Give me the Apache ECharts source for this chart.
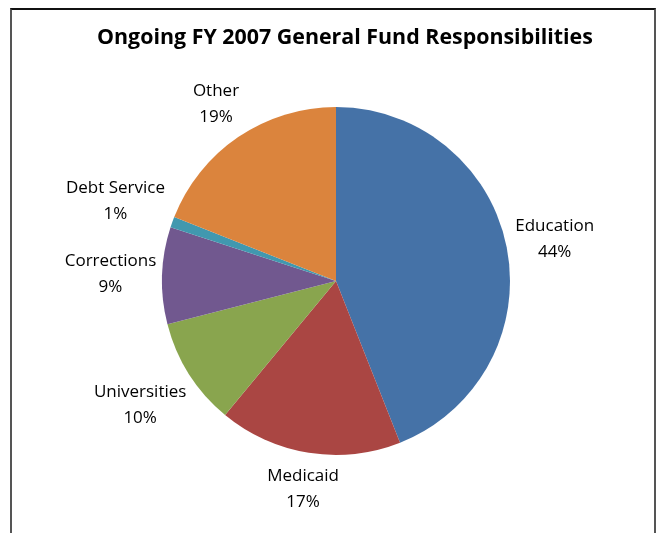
<!DOCTYPE html>
<html>
<head>
<meta charset="utf-8">
<script src="https://cdn.jsdelivr.net/npm/echarts@6/dist/echarts.min.js"></script>
<style>
  html, body { margin: 0; padding: 0; background: #fff; }
  #chart { position: absolute; left: 0; top: 0; width: 657px; height: 533px; }
  #frame {
    position: absolute; left: 10px; top: 8px; width: 642px; height: 540px;
    border-top: 2px solid #111; border-left: 2px solid #555; border-right: 2px solid #555;
    pointer-events: none;
  }
</style>
</head>
<body>
<div id="chart"></div>
<div id="frame"></div>
<script>
// Share of ongoing FY 2007 general fund spending, in percent
const categories = ['Education', 'Medicaid', 'Universities', 'Corrections', 'Debt Service', 'Other'];
const shares = [44, 17, 10, 9, 1, 19];
const sliceColors = ['#4572A7', '#AA4643', '#89A54E', '#71588F', '#4198AF', '#DB843D'];
const titleText = 'Ongoing FY 2007 General Fund Responsibilities';

const LABEL_GAP = 5;      // space between the rim and the nearest edge of a label
const FONT = 'Open Sans';

const chart = echarts.init(document.getElementById('chart'), null, { renderer: 'canvas' });

chart.setOption({
  animation: false,
  title: {
    text: titleText,
    left: 97,
    top: 27,
    padding: 0,
    textStyle: { fontFamily: FONT, fontWeight: 'bold', fontSize: 21.4, color: '#000' }
  },
  series: [{
    type: 'pie',
    center: [336, 281],
    radius: 174,
    startAngle: 90,
    clockwise: true,
    avoidLabelOverlap: false,
    emphasis: { disabled: true },
    data: categories.map((name, i) => ({
      name: name,
      value: shares[i],
      itemStyle: { color: sliceColors[i] }
    })),
    label: {
      show: true,
      position: 'outside',
      formatter: p => p.name + '\n' + Math.round(p.percent) + '%',
      fontFamily: FONT,
      fontSize: 17,
      lineHeight: 26,
      color: '#000',
      align: 'center'
    },
    // invisible guide line: only used to know each slice's mid-angle direction
    labelLine: { show: true, length: 10, length2: 0, lineStyle: { opacity: 0 } },
    labelLayout: function (p) {
      const pts = p.labelLinePoints;
      if (!pts) return {};
      const ux = pts[1][0] - pts[0][0];
      const uy = pts[1][1] - pts[0][1];
      const len = Math.hypot(ux, uy) || 1;
      const nx = ux / len, ny = uy / len;
      const hw = p.labelRect.width / 2, hh = p.labelRect.height / 2;
      const d = LABEL_GAP + Math.abs(nx) * hw + Math.abs(ny) * hh;
      return {
        x: pts[0][0] + nx * d,
        y: pts[0][1] + ny * d,
        align: 'center',
        verticalAlign: 'middle'
      };
    }
  }]
});
</script>
</body>
</html>
